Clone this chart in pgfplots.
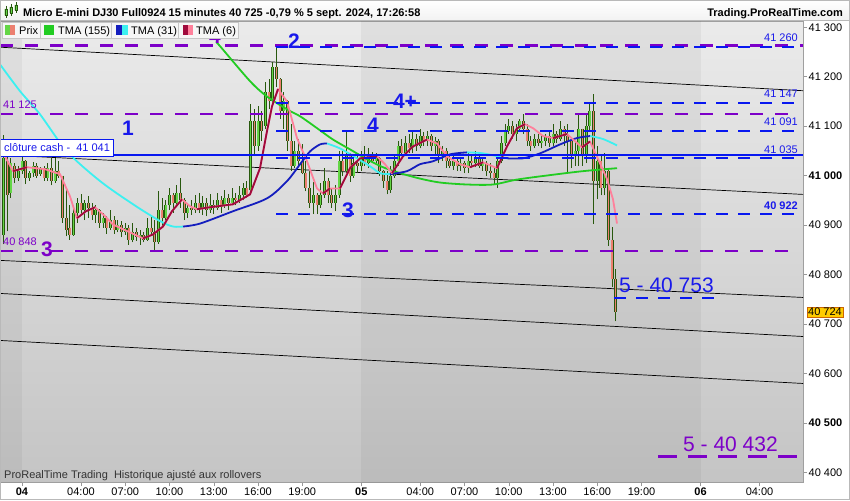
\documentclass[border=0pt]{standalone}
\usepackage{fontspec}
\setmainfont{Liberation Sans}
\usepackage{pgfplots}
\pgfplotsset{compat=1.18}
\usepackage{pgfplotstable}

\definecolor{wick}{RGB}{40,88,14}
\definecolor{upc}{RGB}{100,214,70}
\definecolor{dnc}{RGB}{236,128,112}
\definecolor{lvlpurple}{RGB}{125,0,200}
\definecolor{lvlblue}{RGB}{8,24,240}
\definecolor{txtblue}{RGB}{25,25,235}
\definecolor{tmagreen}{RGB}{34,204,34}
\definecolor{tmablue}{RGB}{20,30,190}
\definecolor{tmacyan}{RGB}{60,240,240}
\definecolor{tmared}{RGB}{160,10,60}
\definecolor{tmapink}{RGB}{255,128,155}
\definecolor{lastbox}{RGB}{255,204,0}

\pgfplotstableread{
t o h l c
-1.25 40880 41083 40861 41035
-1.00 41030 41043 40887 40960
-0.75 40965 41035 40955 41025
-0.50 41020 41025 40985 40995
-0.25 40995 41020 40990 41010
0.00 41010 41043 41003 41030
0.25 41030 41032 40983 40995
0.50 40995 41010 40990 41005
0.75 41005 41028 40997 41020
1.00 41020 41025 40995 41000
1.25 41003 41018 41000 41015
1.50 41015 41020 40990 40995
1.75 40995 41025 40990 41015
2.00 41015 41035 40980 40990
2.25 40990 41035 40985 41010
2.50 41010 41030 40995 41000
2.75 41000 41000 40905 40915
3.00 40915 40975 40877 40890
3.25 40895 40940 40870 40880
3.50 40880 40940 40878 40925
3.75 40925 40955 40905 40945
4.00 40945 40962 40922 40930
4.25 40930 40950 40910 40945
4.50 40945 40958 40915 40935
4.75 40935 40945 40910 40920
5.00 40920 40940 40905 40930
5.25 40930 40932 40895 40905
5.50 40905 40925 40895 40915
5.75 40915 40918 40882 40895
6.00 40895 40930 40890 40910
6.25 40910 40918 40882 40890
6.50 40890 40910 40885 40900
6.75 40900 40908 40875 40885
7.00 40885 40905 40880 40895
7.25 40895 40900 40860 40870
7.50 40870 40905 40865 40885
7.75 40885 40895 40868 40875
8.00 40875 40890 40860 40880
8.25 40880 40885 40865 40870
8.50 40870 40915 40868 40895
8.75 40895 40920 40878 40885
9.00 40885 40910 40850 40865
9.25 40865 40968 40862 40930
9.50 40930 40955 40895 40915
9.75 40915 40950 40910 40940
10.00 40940 40975 40930 40960
10.25 40960 40965 40925 40945
10.50 40945 40980 40940 40965
10.75 40965 40995 40935 40950
11.00 40950 40955 40910 40925
11.25 40925 40945 40915 40935
11.50 40935 40950 40920 40930
11.75 40930 40960 40925 40945
12.00 40945 40965 40925 40935
12.25 40935 40958 40920 40945
12.50 40945 40955 40918 40930
12.75 40930 40962 40925 40940
13.00 40940 40950 40922 40935
13.25 40935 40965 40930 40950
13.50 40950 40958 40925 40940
13.75 40940 40970 40935 40955
14.00 40955 40962 40930 40945
14.25 40945 40975 40940 40955
14.50 40955 40965 40940 40950
14.75 40950 40978 40945 40960
15.00 40960 40985 40950 40975
15.25 40975 40990 40955 40960
15.50 40970 41145 40960 41110
15.75 41110 41135 41040 41060
16.00 41060 41140 41050 41110
16.25 41110 41130 41070 41090
16.50 41100 41190 41095 41170
16.75 41170 41195 41135 41150
17.00 41150 41230 41140 41220
17.25 41220 41260 41180 41195
17.50 41195 41198 41115 41130
17.75 41130 41170 41095 41150
18.00 41150 41152 41050 41070
18.25 41070 41105 41010 41020
18.50 41020 41070 41015 41050
18.75 41050 41075 41022 41030
19.00 41030 41063 41003 41005
19.25 41005 41030 40968 40975
19.50 40975 41010 40935 40945
19.75 40945 40988 40922 40960
20.00 40960 40965 40922 40940
20.25 40940 40985 40935 40960
20.50 40960 41015 40955 40990
20.75 40990 40995 40945 40960
21.00 40960 40975 40935 40945
21.25 40945 40980 40928 40960
21.50 40960 41050 40955 41030
21.75 41030 41050 41000 41010
22.00 41010 41093 41005 41040
22.25 41040 41045 40988 41000
22.50 41000 41038 40995 41025
22.75 41025 41040 41005 41020
23.00 41020 41050 41010 41035
23.25 41035 41060 41020 41025
23.50 41025 41055 41015 41040
23.75 41040 41048 41025 41030
24.00 41030 41045 41025 41035
24.25 41035 41038 41000 41010
24.50 41010 41012 40975 40990
24.75 40990 41010 40962 40970
25.00 40970 41020 40965 41000
25.25 41000 41040 40995 41030
25.50 41030 41070 41020 41060
25.75 41060 41075 41040 41045
26.00 41045 41080 41040 41065
26.25 41065 41085 41045 41055
26.50 41055 41090 41045 41075
26.75 41075 41085 41050 41060
27.00 41060 41095 41055 41080
27.25 41080 41088 41060 41070
27.50 41070 41090 41060 41080
27.75 41080 41085 41050 41060
28.00 41060 41078 41040 41070
28.25 41070 41075 41025 41040
28.50 41040 41060 41030 41050
28.75 41050 41055 41015 41030
29.00 41030 41040 41015 41020
29.25 41020 41040 41012 41030
29.50 41030 41035 41010 41020
29.75 41020 41035 41010 41025
30.00 41025 41030 41005 41015
30.25 41015 41045 41005 41030
30.50 41030 41040 41015 41025
30.75 41025 41050 41018 41035
31.00 41035 41045 41015 41020
31.25 41020 41035 41010 41025
31.50 41025 41030 41000 41010
31.75 41010 41025 40995 41005
32.00 41005 41015 40980 40995
32.25 40995 41035 40975 41030
32.50 41030 41080 41025 41065
32.75 41065 41105 41060 41090
33.00 41090 41115 41085 41100
33.25 41100 41110 41075 41085
33.50 41085 41105 41070 41095
33.75 41095 41115 41090 41110
34.00 41110 41125 41085 41095
34.25 41095 41105 41060 41070
34.50 41070 41080 41050 41060
34.75 41060 41085 41055 41075
35.00 41075 41085 41060 41065
35.25 41065 41080 41055 41070
35.50 41070 41085 41060 41080
35.75 41080 41088 41058 41065
36.00 41065 41105 41060 41085
36.25 41085 41090 41065 41075
36.50 41075 41110 41070 41095
36.75 41095 41100 41060 41080
37.00 41080 41105 41005 41070
37.25 41070 41075 41015 41040
37.50 41040 41070 41020 41050
37.75 41050 41125 41020 41095
38.00 41095 41095 41020 41040
38.25 41040 41125 41025 41100
38.50 41100 41145 41090 41130
38.75 41130 41165 40902 40990
39.00 40990 41060 40952 41030
39.25 41030 41040 40960 40975
39.50 40975 41045 40960 41010
39.75 41010 41015 40858 40870
40.00 40870 40897 40775 40790
40.25 40790 40812 40705 40725
}\candles

\begin{document}
\begin{tikzpicture}
\useasboundingbox (0,0) rectangle (850pt,-500pt);
\fill[white] (0,0) rectangle (850pt,-500pt);
\begin{scope}[x=1pt,y=-1pt]
\shade[top color=white, bottom color=gray!10] (0,0) rectangle (850,20.5);
\draw[gray!55, line width=0.6pt] (0,20.5) -- (850,20.5);
\end{scope}

\begin{axis}[
  at={(0pt,-482pt)}, anchor=south west,
  width=803pt, height=461pt, scale only axis,
  xmin=-1.4915, xmax=52.949, ymin=40380.3, ymax=41312.7,
  scaled ticks=false,
  axis background/.style={shade, top color=gray!16, bottom color=gray!46},
  axis line style={draw=gray!75, line width=0.6pt},
  xtick pos=left, ytick pos=right, yticklabel pos=right,
  tick align=outside, major tick length=4pt,
  tick style={draw=gray!80, line width=0.5pt},
  xtick={0,4,7,10,13,16,19,23,27,30,33,36,39,42,46,50},
  xticklabels={\textbf{04},04:00,07:00,10:00,13:00,16:00,19:00,\textbf{05},04:00,07:00,10:00,13:00,16:00,19:00,\textbf{06},04:00},
  ytick={40400,40500,40600,40700,40800,40900,41000,41100,41200,41300},
  yticklabels={40 400,\textbf{40 500},40 600,40 700,40 800,40 900,\textbf{41 000},41 100,41 200,41 300},
  tick label style={font=\fontsize{11}{12}\selectfont, text=black},
  xticklabel style={inner sep=1pt, yshift=-1pt},
  yticklabel style={inner sep=1.5pt},
]
% darker day bands (03 and 05)
\fill[black, opacity=0.045] (axis cs:-2,40370) rectangle (axis cs:0,41320);
\fill[black, opacity=0.045] (axis cs:23,40370) rectangle (axis cs:46,41320);

% regression channel lines
\addplot[black, line width=0.7pt] coordinates {(-1.4915,41259.7) (52.949,41171.7)};
\addplot[black, line width=0.7pt] coordinates {(-1.4915,41042) (52.949,40962)};
\addplot[black, line width=0.7pt] coordinates {(-1.4915,40828.5) (52.949,40753.6)};
\addplot[black, line width=0.7pt] coordinates {(-1.4915,40761.7) (52.949,40674.6)};
\addplot[black, line width=0.7pt] coordinates {(-1.4915,40666.6) (52.949,40579.6)};

% candles: wicks, body outline, body fill
\addplot[draw=wick, line width=0.9pt, quiver={u=0, v=\thisrow{h}-\thisrow{l}}] table[x=t, y=l] {\candles};
\addplot[draw=wick, line width=3.0pt, quiver={u=0, v=\thisrow{c}-\thisrow{o}}] table[x=t, y=o] {\candles};
\addplot[draw=upc, line width=1.4pt, quiver={u=0, v=\thisrow{c}-\thisrow{o}},
  x filter/.expression={\thisrow{c}<\thisrow{o} ? nan : x}] table[x=t, y=o] {\candles};
\addplot[draw=dnc, line width=1.4pt, quiver={u=0, v=\thisrow{c}-\thisrow{o}},
  x filter/.expression={\thisrow{c}<\thisrow{o} ? x : nan}] table[x=t, y=o] {\candles};

% TMA 155
\addplot[tmagreen, line width=1.8pt, smooth] coordinates {(13.15,41270) (13.42,41262) (15.46,41191) (16.61,41160) (17.97,41134) (18.85,41120) (20.0,41096) (21.08,41073) (22.24,41053) (23.39,41033) (24.47,41017) (25.63,41005) (26.98,40994) (28.34,40986) (30.17,40982) (31.93,40982) (33.56,40992) (35.80,41001) (38.03,41009) (40.34,41015)};

% TMA 31
\addplot[tmacyan, line width=1.8pt, smooth] coordinates {(-1.49,41225) (-0.14,41171) (1.22,41124) (3.05,41049) (5.29,40989) (7.53,40942) (9.36,40908) (10.24,40897) (10.92,40897)};
\addplot[tmablue, line width=1.8pt, smooth] coordinates {(10.92,40897) (12.07,40903) (14.31,40928) (16.61,40954) (17.97,40989) (18.85,41023) (19.53,41049) (20.20,41063) (20.68,41065)};
\addplot[tmacyan, line width=1.8pt, smooth] coordinates {(20.68,41065) (21.56,41055) (22.71,41035) (23.59,41019) (24.27,41005) (24.95,41003)};
\addplot[tmablue, line width=1.8pt, smooth] coordinates {(24.95,41003) (26.10,41009) (26.98,41023) (27.86,41029) (29.02,41043) (30.17,41047)};
\addplot[tmacyan, line width=1.8pt, smooth] coordinates {(30.17,41047) (31.25,41045) (32.88,41035)};
\addplot[tmablue, line width=1.8pt, smooth] coordinates {(32.88,41035) (33.97,41035) (35.12,41045) (36.47,41063) (37.63,41076) (38.51,41080)};
\addplot[tmacyan, line width=1.8pt, smooth] coordinates {(38.51,41080) (39.39,41074) (40.34,41061)};

% TMA 6
\addplot[tmapink, line width=1.8pt, line join=round] coordinates {(-1.153,41039) (-0.610,41009) (0.339,41017) (1.559,41013) (2.576,41003) (3.254,40958) (3.729,40914) (4.339,40928) (4.949,40936) (5.559,40920) (6.169,40901) (7.186,40887) (8.203,40873) (8.881,40881) (9.559,40897) (10.169,40928) (10.847,40952) (11.390,40938) (11.864,40932) (12.746,40936) (14.305,40942) (15.458,40962) (16.136,41015) (16.610,41090) (16.949,41140) (17.356,41175) (17.966,41150) (18.644,41076) (19.322,41029) (20.0,40974) (20.407,40964) (20.881,40974) (21.559,40974) (22.237,41015) (22.915,41035) (24.068,41039) (24.610,41023) (25.085,41005) (25.831,41039) (26.508,41059) (27.458,41073) (28.136,41065) (28.814,41039) (29.695,41023) (30.373,41017) (31.254,41027) (32.203,41015) (32.881,41059) (33.559,41096) (34.102,41104) (34.644,41096) (35.322,41080) (36.0,41076) (36.949,41084) (37.966,41057) (38.508,41069) (39.186,41025) (39.661,40993) (40.068,40952) (40.339,40903)};
\addplot[tmared, line width=1.8pt, line join=round] coordinates {(-0.610,41009) (0.339,41017)};
\addplot[tmared, line width=1.8pt, line join=round] coordinates {(3.729,40914) (4.339,40928) (4.949,40936)};
\addplot[tmared, line width=1.8pt, line join=round] coordinates {(8.203,40873) (8.881,40881) (9.559,40897) (10.169,40928) (10.847,40952)};
\addplot[tmared, line width=1.8pt, line join=round] coordinates {(11.864,40932) (12.746,40936) (14.305,40942) (15.458,40962) (16.136,41015) (16.610,41090) (16.949,41140) (17.356,41175)};
\addplot[tmared, line width=1.8pt, line join=round] coordinates {(20.407,40964) (20.881,40974)};
\addplot[tmared, line width=1.8pt, line join=round] coordinates {(21.559,40974) (22.237,41015) (22.915,41035) (24.068,41039)};
\addplot[tmared, line width=1.8pt, line join=round] coordinates {(25.085,41005) (25.831,41039) (26.508,41059) (27.458,41073)};
\addplot[tmared, line width=1.8pt, line join=round] coordinates {(30.373,41017) (31.254,41027)};
\addplot[tmared, line width=1.8pt, line join=round] coordinates {(32.203,41015) (32.881,41059) (33.559,41096) (34.102,41104)};
\addplot[tmared, line width=1.8pt, line join=round] coordinates {(36.0,41076) (36.949,41084)};
\addplot[tmared, line width=1.8pt, line join=round] coordinates {(37.966,41057) (38.508,41069)};

% purple levels
\addplot[lvlpurple, line width=2.2pt, dash pattern=on 13pt off 12pt] coordinates {(-1.4915,41263) (52.949,41263)};
\addplot[lvlpurple, line width=2.2pt, dash pattern=on 13pt off 12pt] coordinates {(-1.4915,41125) (52.27,41125)};
\addplot[lvlpurple, line width=2.2pt, dash pattern=on 13pt off 12pt] coordinates {(-1.4915,40848) (52.27,40848)};
\addplot[lvlpurple, line width=2.2pt, dash pattern=on 19pt off 11pt] coordinates {(43.12,40432) (52.75,40432)};
% blue levels
\addplot[lvlblue, line width=2.2pt, dash pattern=on 12pt off 10pt] coordinates {(17.22,41260) (52.949,41260)};
\addplot[lvlblue, line width=2.2pt, dash pattern=on 12pt off 10pt] coordinates {(17.22,41147) (52.949,41147)};
\addplot[lvlblue, line width=2.2pt, dash pattern=on 12pt off 10pt] coordinates {(17.22,41091) (52.949,41091)};
\addplot[lvlblue, line width=2.2pt, dash pattern=on 12pt off 10pt] coordinates {(17.22,41035) (52.949,41035)};
\addplot[lvlblue, line width=2.2pt, dash pattern=on 12pt off 10pt] coordinates {(17.22,40922) (52.949,40922)};
\addplot[lvlblue, line width=2.2pt, dash pattern=on 12pt off 10pt] coordinates {(40.14,40753) (47.32,40753)};
% cash close
\addplot[lvlblue, line width=2pt] coordinates {(-1.4915,41041) (52.949,41041)};
\end{axis}

\begin{scope}[x=1pt,y=-1pt]
% header content
\draw[wick, line width=0.7pt] (6,6) -- (6,18) (11,4) -- (11,16) (16,2.5) -- (16,13);
\filldraw[draw=wick, fill=upc, line width=0.4pt] (4.7,9) rectangle (7.3,15.5) (9.7,7) rectangle (12.3,13) (14.7,5) rectangle (17.3,10.5);
\node[anchor=base west, inner sep=0, font=\fontsize{11}{12}\selectfont\bfseries] at (23,16.3) {Micro E-mini DJ30 Full0924 15 minutes 40 725 -0,79 \% 5 sept. 2024, 17:26:58};
\node[anchor=base east, inner sep=0, font=\fontsize{11}{12}\selectfont\bfseries] at (843,16.3) {Trading.ProRealTime.com};

% purple 4, mostly hidden by the legend
\begin{scope}
\clip (195,38.6) rectangle (235,50);
\node[text=lvlpurple, font=\fontsize{21}{21}\selectfont\bfseries, inner sep=0] at (215,36) {4};
\end{scope}

% legend boxes
\filldraw[fill=gray!7, draw=gray!45, line width=0.6pt] (2.5,22.5) rectangle (40,38.5);
\filldraw[fill=gray!7, draw=gray!45, line width=0.6pt] (40,22.5) rectangle (111.5,38.5);
\filldraw[fill=gray!7, draw=gray!45, line width=0.6pt] (111.5,22.5) rectangle (178,38.5);
\filldraw[fill=gray!7, draw=gray!45, line width=0.6pt] (178,22.5) rectangle (238,38.5);
\fill[upc] (5,25) rectangle (10,35); \fill[dnc] (10,25) rectangle (15,35);
\fill[tmagreen] (44,25) rectangle (54,35);
\fill[tmablue] (116,25) rectangle (122,35); \fill[tmacyan] (122,25) rectangle (128,35);
\fill[tmared] (183,25) rectangle (188,35); \fill[tmapink] (188,25) rectangle (193,35);
\node[anchor=base west, inner sep=0, font=\fontsize{11}{12}\selectfont] at (19,34.5) {Prix};
\node[anchor=base west, inner sep=0, font=\fontsize{11}{12}\selectfont] at (58,34.5) {TMA (155)};
\node[anchor=base west, inner sep=0, font=\fontsize{11}{12}\selectfont] at (131,34.5) {TMA (31)};
\node[anchor=base west, inner sep=0, font=\fontsize{11}{12}\selectfont] at (196,34.5) {TMA (6)};

% wave labels
\node[text=txtblue, font=\fontsize{21}{21}\selectfont\bfseries, inner sep=0] at (128,128) {1};
\node[text=txtblue, font=\fontsize{21}{21}\selectfont\bfseries, inner sep=0] at (294,41) {2};
\node[text=txtblue, font=\fontsize{21}{21}\selectfont\bfseries, inner sep=0] at (348,210) {3};
\node[text=txtblue, font=\fontsize{21}{21}\selectfont\bfseries, inner sep=0] at (373,125) {4};
\node[text=txtblue, font=\fontsize{21}{21}\selectfont\bfseries, inner sep=0] at (405,101) {4+};
\node[text=lvlpurple, font=\fontsize{21}{21}\selectfont\bfseries, inner sep=0] at (47,249) {3};
\node[anchor=west, text=txtblue, font=\fontsize{21}{21}\selectfont, inner sep=0] at (619,285) {5 - 40 753};
\node[anchor=west, text=lvlpurple, font=\fontsize{21}{21}\selectfont, inner sep=0] at (683,444) {5 - 40 432};

% level labels
\node[anchor=west, text=lvlpurple, font=\fontsize{11}{12}\selectfont, inner sep=0] at (3,105) {41 125};
\node[anchor=west, text=lvlpurple, font=\fontsize{11}{12}\selectfont, inner sep=0] at (3,242) {40 848};
\node[anchor=east, text=txtblue, font=\fontsize{11}{12}\selectfont, inner sep=0] at (798,38) {41 260};
\node[anchor=east, text=txtblue, font=\fontsize{11}{12}\selectfont, inner sep=0] at (798,94) {41 147};
\node[anchor=east, text=txtblue, font=\fontsize{11}{12}\selectfont, inner sep=0] at (798,122) {41 091};
\node[anchor=east, text=txtblue, font=\fontsize{11}{12}\selectfont, inner sep=0] at (798,150) {41 035};
\node[anchor=east, text=txtblue, font=\fontsize{11}{12}\selectfont\bfseries, inner sep=0] at (798,206) {40 922};

% cash close label
\filldraw[fill=white, draw=lvlblue, line width=0.9pt] (0.5,139) rectangle (113,156);
\node[anchor=west, text=txtblue, font=\fontsize{11}{12}\selectfont, inner sep=0] at (4,147.5) {clôture cash -\ \ 41 041};

% last price
\node[fill=lastbox, draw=orange!80!black, line width=0.4pt, inner sep=1.2pt, font=\fontsize{11}{12}\selectfont] at (825,312) {40 724};

% footer text
\node[anchor=west, text=black!80, font=\fontsize{11}{12}\selectfont, inner sep=0] at (4,476) {ProRealTime Trading\ \ Historique ajusté aux rollovers};

% outer frame
\draw[gray!55, line width=0.8pt] (0.4,0.4) rectangle (849.6,499.6);
\end{scope}
\end{tikzpicture}
\end{document}
